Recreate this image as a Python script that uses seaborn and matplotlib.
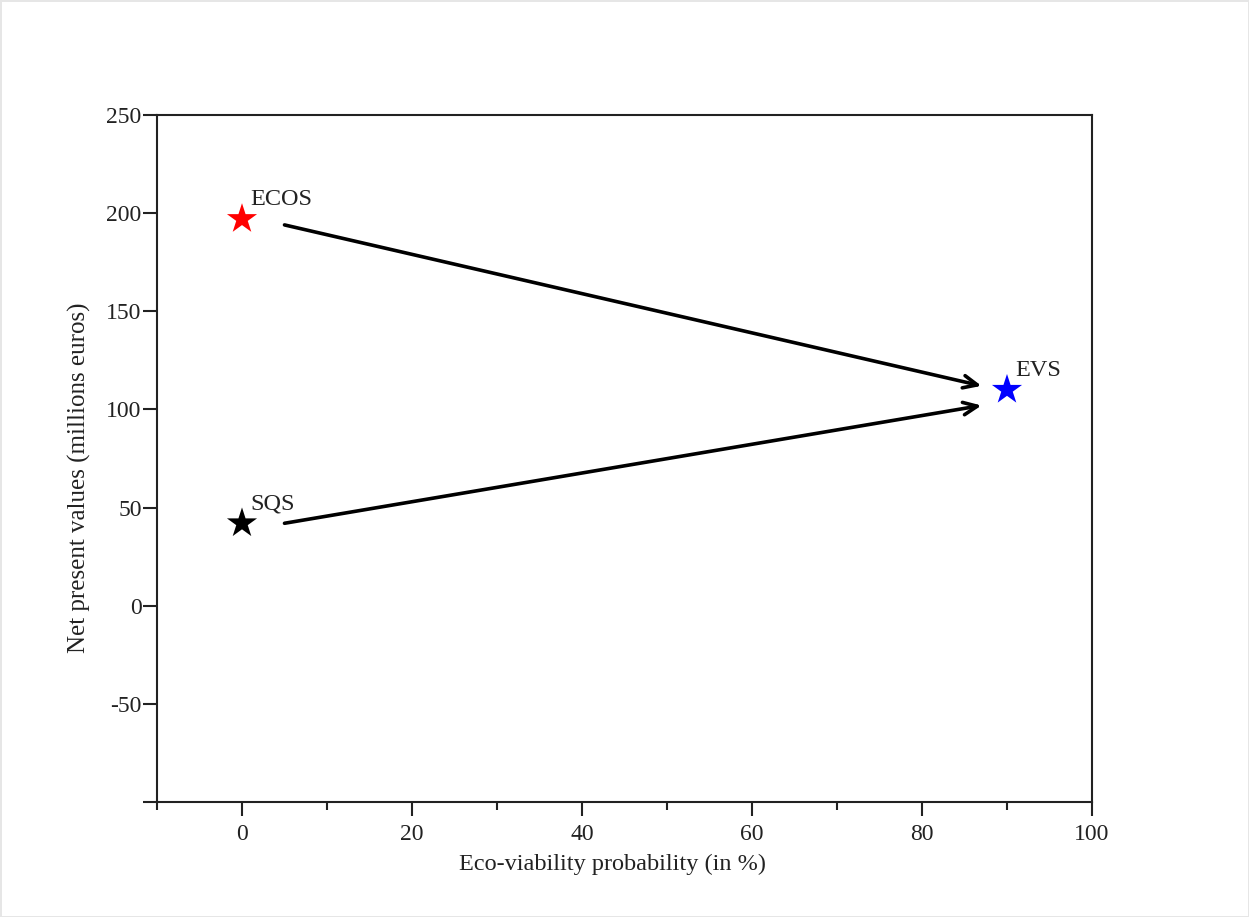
import pandas as pd
import matplotlib
matplotlib.use("Agg")
import matplotlib.pyplot as plt
import seaborn as sns
from matplotlib.ticker import MultipleLocator, FixedLocator

# scenario points
scenarios = ["ECOS", "SQS", "EVS"]
viability = [0, 0, 90]          # eco-viability probability (%)
npv = [197, 42, 110]            # net present value (millions euros)
colors = ["#ff0000", "#000000", "#0000ff"]

# arrows: (start x, start y, end x, end y)
arrow_from_x = [5, 5]
arrow_from_y = [194, 42]
arrow_to_x = [87, 87]
arrow_to_y = [112, 102]

y_ticks = [-100, -50, 0, 50, 100, 150, 200, 250]
y_ticklabels = ["", "-50", "0", "50", "100", "150", "200", "250"]
x_ticks = [0, 20, 40, 60, 80, 100]

df = pd.DataFrame({"scenario": scenarios, "viability": viability, "npv": npv})

sns.set_style("white")
plt.rcParams["font.family"] = ["Liberation Serif", "DejaVu Serif"]

fig = plt.figure(figsize=(12.49, 9.17), dpi=100)
ax = fig.add_axes([0.1257, 0.1254, 0.7486, 0.7492])

sns.scatterplot(data=df, x="viability", y="npv", hue="scenario",
                palette=dict(zip(scenarios, colors)), marker="*", s=520,
                edgecolor="none", legend=False, ax=ax, zorder=3)

for name, x, y in zip(scenarios, viability, npv):
    ax.text(x + 1.0, y + 4.5, name, fontsize=17.5, color="#222222",
            ha="left", va="bottom")

for x0, y0, x1, y1 in zip(arrow_from_x, arrow_from_y, arrow_to_x, arrow_to_y):
    ax.annotate("", xy=(x1, y1), xytext=(x0, y0),
                arrowprops=dict(arrowstyle="->,head_length=1.0,head_width=0.45",
                                lw=2.6, color="black", shrinkA=0, shrinkB=0))

ax.set_xlim(-10, 100)
ax.set_ylim(-100, 250)
ax.xaxis.set_major_locator(FixedLocator(x_ticks))
ax.xaxis.set_minor_locator(MultipleLocator(20, offset=10))
ax.set_yticks(y_ticks)
ax.set_yticklabels(y_ticklabels)

for side in ["left", "right", "top", "bottom"]:
    ax.spines[side].set_color("#222222")
    ax.spines[side].set_linewidth(1.5)

ax.tick_params(axis="both", which="major", direction="out", length=10,
               width=1.5, color="#222222", labelsize=17, labelcolor="#222222")
ax.tick_params(axis="y", which="major", pad=1, left=True)
ax.tick_params(axis="x", which="major", pad=6, bottom=True)
ax.tick_params(axis="x", which="minor", direction="out", length=6,
               width=1.5, color="#222222", bottom=True)

ax.set_xlabel("Eco-viability probability (in %)", fontsize=17.5, color="#222222")
ax.set_ylabel("Net present values (millions euros)", fontsize=18, color="#222222")
ax.xaxis.set_label_coords(0.4877, -0.075)
ax.yaxis.set_label_coords(-0.071, 0.472)

fig.patch.set_edgecolor("#e6e6e6")
fig.patch.set_linewidth(2)
fig.savefig("out.png", dpi=100, edgecolor=fig.get_edgecolor())
